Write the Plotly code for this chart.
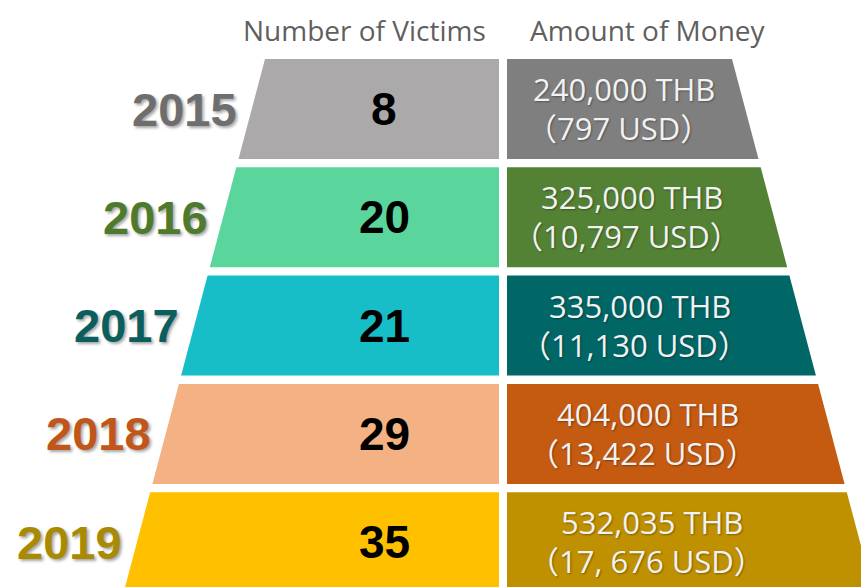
import plotly.graph_objects as go

# ---- data ----
years = ["2015", "2016", "2017", "2018", "2019"]
victims = [8, 20, 21, 29, 35]
money_thb = ["240,000", "325,000", "335,000", "404,000", "532,035"]
money_usd = ["797", "10,797", "11,130", "13,422", "17, 676"]
headers = ["Number of Victims", "Amount of Money"]

# ---- styles ----
left_colors = ["#ABA9A9", "#5AD69C", "#17BEC7", "#F4B183", "#FFC000"]
right_colors = ["#7F7F7F", "#548235", "#006666", "#C55A11", "#BF9000"]
year_colors = ["#6E6E6E", "#4E7A2E", "#0B5E5E", "#C0561A", "#A88A05"]

# ---- layout geometry (pixel-like axis units) ----
W, H = 861, 587
TOP0 = 59          # top of first row
PITCH = 108.3      # row pitch
ROW_H = 100        # row height
SLOPE = 0.265      # outward slope of pyramid sides per unit of y
LEFT_X0 = 265      # left edge at TOP0
RIGHT_X0 = 732     # right edge at TOP0
MID_L = 499        # right edge of victims column
MID_R = 507        # left edge of money column


def left_edge(y):
    return LEFT_X0 - SLOPE * (y - TOP0)


def right_edge(y):
    return RIGHT_X0 + SLOPE * (y - TOP0)


fig = go.Figure()
annotations = []

for i, yr in enumerate(years):
    top = TOP0 + i * PITCH
    bot = top + ROW_H + (8 if i == len(years) - 1 else 0)
    mid = top + ROW_H / 2
    # victims trapezoid
    fig.add_trace(go.Scatter(
        x=[left_edge(top), MID_L, MID_L, left_edge(bot), left_edge(top)],
        y=[top, top, bot, bot, top],
        mode="lines", fill="toself", fillcolor=left_colors[i],
        line=dict(width=0, color=left_colors[i]), hoverinfo="skip",
        showlegend=False))
    # money trapezoid
    fig.add_trace(go.Scatter(
        x=[MID_R, right_edge(top), right_edge(bot), MID_R, MID_R],
        y=[top, top, bot, bot, top],
        mode="lines", fill="toself", fillcolor=right_colors[i],
        line=dict(width=0, color=right_colors[i]), hoverinfo="skip",
        showlegend=False))

    # year label
    annotations.append(dict(
        x=left_edge(mid) - 13, y=mid, xref="x", yref="y",
        text="<b>" + yr + "</b>", showarrow=False, xanchor="right", yanchor="middle",
        font=dict(family="Liberation Sans", size=47, color=year_colors[i],
                  shadow="2px 2px 3px rgba(0,0,0,0.35)")))
    # victims number
    annotations.append(dict(
        x=384, y=mid, xref="x", yref="y",
        text="<b>%d</b>" % victims[i], showarrow=False, xanchor="center", yanchor="middle",
        font=dict(family="Liberation Sans", size=46, color="#000000")))
    # money text (two lines)
    cx = min(MID_R + 117 + 8 * i, MID_R + 145)
    mfont = dict(family="Open Sans, Noto Sans CJK JP", size=31, color="#F2F2F2",
                 shadow="1px 1px 2px rgba(0,0,0,0.35)")
    annotations.append(dict(
        x=cx, y=mid - 20, xref="x", yref="y",
        text=money_thb[i] + " THB", showarrow=False, xanchor="center", yanchor="middle",
        font=mfont))
    annotations.append(dict(
        x=cx - 6, y=mid + 19, xref="x", yref="y",
        text="\uff08" + money_usd[i] + " USD\uff09", showarrow=False,
        xanchor="center", yanchor="middle", font=mfont))

# headers
hfont = dict(family="Open Sans", size=28, color="#5F5F5F")
annotations.append(dict(x=364, y=30, xref="x", yref="y", text=headers[0], showarrow=False,
                        xanchor="center", yanchor="middle", font=hfont))
annotations.append(dict(x=648, y=30, xref="x", yref="y", text=headers[1], showarrow=False,
                        xanchor="center", yanchor="middle", font=hfont))

fig.update_layout(
    width=W, height=H, margin=dict(l=0, r=0, t=0, b=0),
    paper_bgcolor="white", plot_bgcolor="white",
    xaxis=dict(range=[0, W], visible=False, fixedrange=True),
    yaxis=dict(range=[H, 0], visible=False, fixedrange=True),
    annotations=annotations, showlegend=False,
)

fig.write_html("out.html", config={"displayModeBar": False, "staticPlot": True},
               post_script="document.body.style.margin='0';document.body.style.overflow='hidden';")
